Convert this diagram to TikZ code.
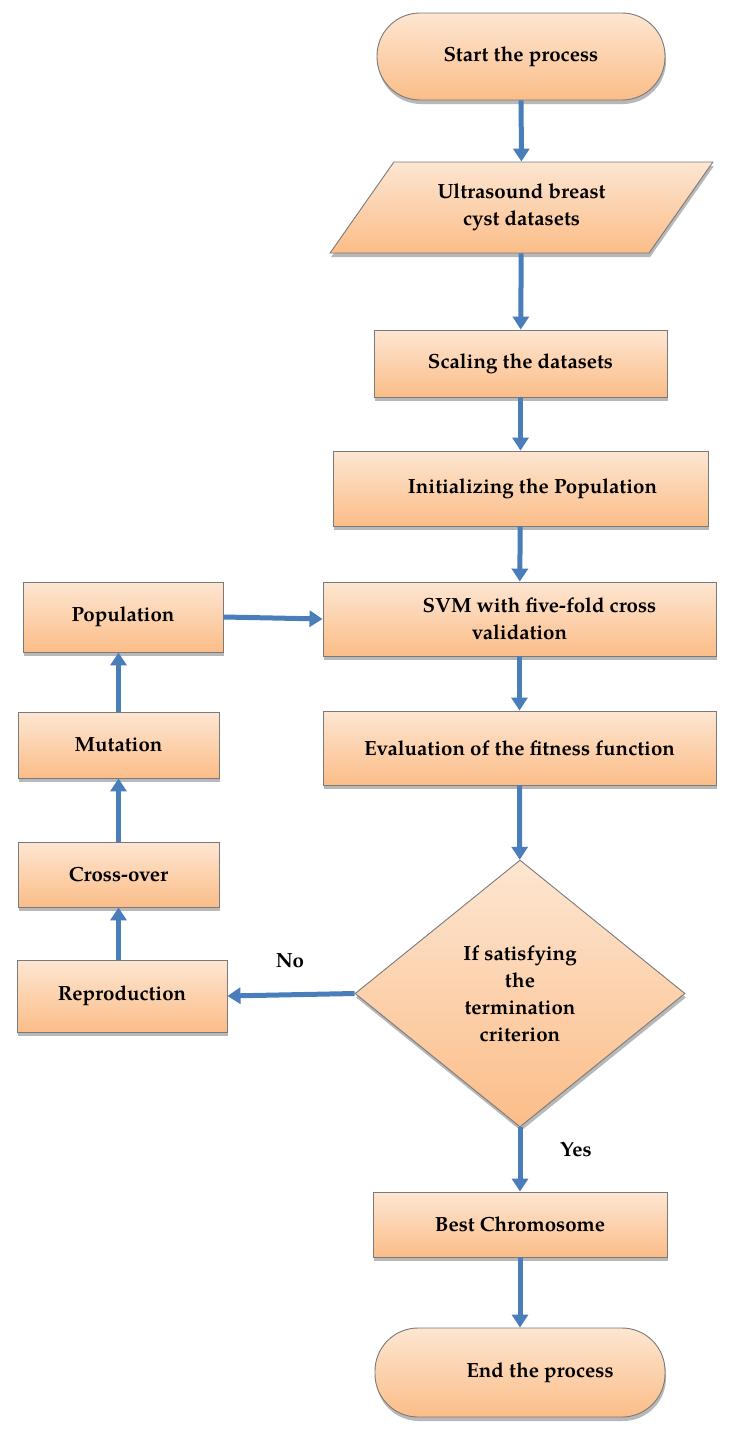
\documentclass[tikz,border=0pt]{standalone}
\usepackage{fontspec}
\setmainfont{TeX Gyre Pagella}
\usetikzlibrary{shapes.geometric,shadows,arrows.meta}
\definecolor{peachtop}{HTML}{FDE6D2}
\definecolor{peachbot}{HTML}{FBBD88}
\definecolor{boxline}{HTML}{7A7A7A}
\definecolor{arrowblue}{HTML}{4A7EBB}
\begin{document}
\begin{tikzpicture}[x=1pt,y=-1pt,
  box/.style={draw=boxline, line width=0.9pt, top color=peachtop, bottom color=peachbot,
    drop shadow={shadow xshift=1pt, shadow yshift=-4pt, opacity=0.28, fill=black},
    font=\bfseries\fontsize{20.5}{27}\selectfont, align=center, inner sep=2pt},
  terminal/.style={box, rounded corners=43pt},
  io/.style={box, trapezium, trapezium left angle=50, trapezium right angle=130, trapezium stretches=true},
  decision/.style={box, diamond, inner sep=0pt},
  flow/.style={draw=arrowblue, line width=5pt, -{Triangle[width=16pt,length=13pt]}},
  lbl/.style={font=\bfseries\fontsize{20.5}{27}\selectfont}]
\useasboundingbox (0,0) rectangle (736,1440);
\node[terminal, minimum width=288pt, minimum height=87pt] (start) at (521,56.5) {Start the process};
\node[io, minimum width=383pt, minimum height=91pt] (data) at (521.5,207.5) {Ultrasound breast\\cyst datasets};
\node[box, minimum width=293pt, minimum height=67pt] (scale) at (520.5,363.5) {Scaling the datasets};
\node[box, minimum width=375pt, minimum height=75pt] (init) at (520.5,488.5) {\hspace*{24pt}Initializing the Population};
\node[box, minimum width=393pt, minimum height=74pt] (svm) at (519.5,619) {\hspace*{40pt}SVM with five-fold cross\\validation};
\node[box, minimum width=393pt, minimum height=74pt] (eval) at (519.5,748) {Evaluation of the fitness function};
\node[decision, minimum width=330pt, minimum height=267pt] (cond) at (520,993.5) {If satisfying\\the\\termination\\criterion};
\node[box, minimum width=210pt, minimum height=72pt] (repro) at (122,996) {Reproduction};
\node[box, minimum width=201pt, minimum height=65pt] (cross) at (118.5,874.5) {Cross-over};
\node[box, minimum width=201pt, minimum height=66pt] (mut) at (118.5,745) {Mutation};
\node[box, minimum width=200pt, minimum height=70pt] (pop) at (123,617) {Population};
\node[box, minimum width=294pt, minimum height=65pt] (best) at (520,1224.5) {Best Chromosome};
\node[terminal, minimum width=290pt, minimum height=89pt] (end) at (520,1372.5) {\hspace*{40pt}End the process};
\node[lbl] (no) at (290,961) {No};
\node[lbl] (yes) at (576,1150) {Yes};
\draw[flow] (start) -- (data);
\draw[flow] (data) -- (scale);
\draw[flow] (scale) -- (init);
\draw[flow] (init) -- (svm);
\draw[flow] (svm) -- (eval);
\draw[flow] (eval) -- (cond);
\draw[flow] (cond.west) -- (repro.east);
\draw[flow] (cross.south |- repro.north) -- (cross.south);
\draw[flow] (cross.north) -- (mut.south);
\draw[flow] (mut.north) -- (mut.north |- pop.south);
\draw[flow] (pop.east) -- (svm.west);
\draw[flow] (cond.south) -- (cond.south |- best.north);
\draw[flow] (best) -- (end);
\end{tikzpicture}
\end{document}
